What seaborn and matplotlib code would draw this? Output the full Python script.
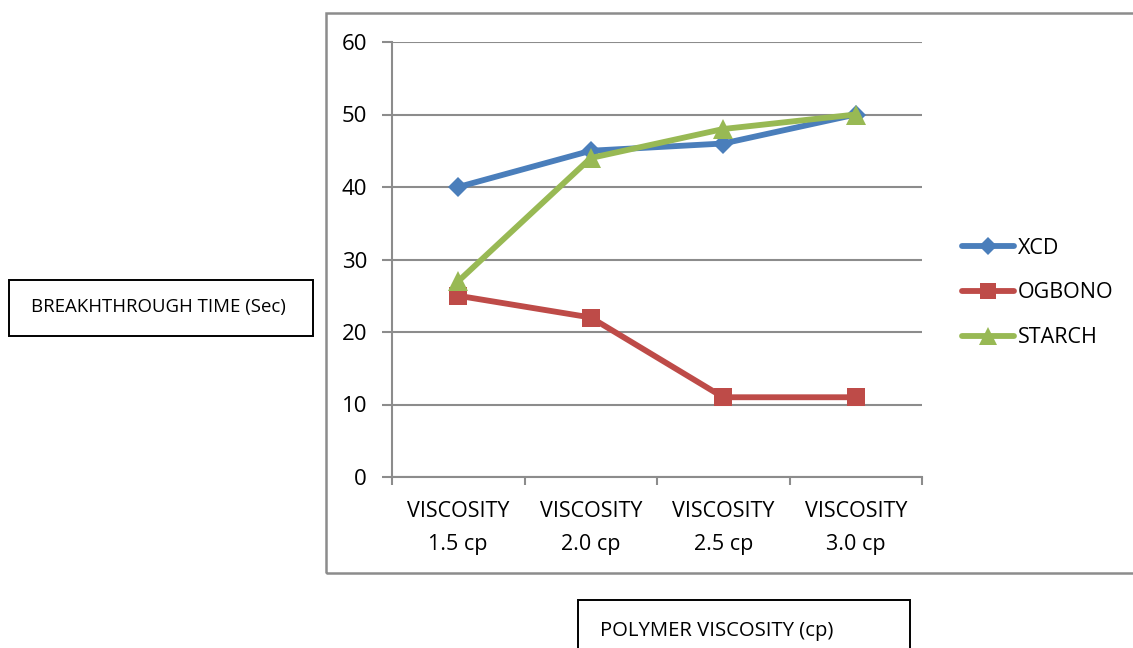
import pandas as pd
import seaborn as sns
import matplotlib.pyplot as plt
from matplotlib.patches import Rectangle
from matplotlib.lines import Line2D

categorias = ['VISCOSITY\n1.5 cp', 'VISCOSITY\n2.0 cp', 'VISCOSITY\n2.5 cp', 'VISCOSITY\n3.0 cp']
xcd = [40, 45, 46, 50]
ogbono = [25, 22, 11, 11]
starch = [27, 44, 48, 50]
series = ['XCD', 'OGBONO', 'STARCH']

colores = {'XCD': '#4A7EBB', 'OGBONO': '#BE4B48', 'STARCH': '#98B954'}
marcadores = {'XCD': 'D', 'OGBONO': 's', 'STARCH': '^'}
tam_marcador = {'D': 10.5, 's': 13.5, '^': 14}

filas = []
for nombre, valores in zip(series, [xcd, ogbono, starch]):
    for i, v in enumerate(valores):
        filas.append({'pos': i, 'tiempo': v, 'polimero': nombre})
df = pd.DataFrame(filas)

sns.set_style('white')
plt.rcParams['font.family'] = ['Open Sans', 'DejaVu Sans']
plt.rcParams['text.color'] = 'black'
plt.rcParams['xtick.color'] = 'black'
plt.rcParams['ytick.color'] = 'black'

fig = plt.figure(figsize=(11.33, 6.48), dpi=100)
ax = fig.add_axes([392/1133, 1 - 477/648, 530/1133, 435/648])

sns.lineplot(data=df, x='pos', y='tiempo', hue='polimero', style='polimero',
             palette=colores, markers=marcadores, dashes=False, linewidth=4.2,
             markeredgewidth=0, ax=ax, legend=False, sort=False)
for linea in ax.lines:
    m = linea.get_marker()
    if m in tam_marcador:
        linea.set_markersize(tam_marcador[m])

gris = '#8c8c8c'
ax.set_xlim(-0.5, 3.5)
ax.set_ylim(0, 60)
ax.set_yticks(range(0, 61, 10))
ax.yaxis.grid(True, color=gris, linewidth=1.5)
ax.set_axisbelow(True)
ax.set_xticks([-0.5, 0.5, 1.5, 2.5, 3.5])
ax.set_xticklabels([])
ax.set_xticks([0, 1, 2, 3], minor=True)
ax.set_xticklabels(categorias, minor=True, fontsize=15.5, linespacing=1.75)
ax.tick_params(axis='x', which='minor', length=0, pad=17.5)
ax.tick_params(axis='x', which='major', length=6, width=1.5, color=gris, direction='out', bottom=True)
ax.tick_params(axis='y', length=7, width=1.5, color=gris, direction='out', left=True, labelsize=16, pad=11)
for lado in ['top', 'right']:
    ax.spines[lado].set_visible(False)
for lado in ['left', 'bottom']:
    ax.spines[lado].set_color(gris)
    ax.spines[lado].set_linewidth(1.5)
ax.set_xlabel('')
ax.set_ylabel('')

manijas = [Line2D([], [], color=colores[s], marker=marcadores[s], linewidth=4.2,
                  markersize=tam_marcador[marcadores[s]] * 0.9, markeredgewidth=0) for s in series]
fig.legend(manijas, series, loc='center left', bbox_to_anchor=(962/1133, 1 - 293/648),
           frameon=False, fontsize=15.5, handlelength=2.4, handletextpad=0.2,
           labelspacing=1.1, borderpad=0, borderaxespad=0)

# recuadro del grafico
fig.patches.append(Rectangle((326/1133, 1 - 573/648), 820/1133, 560/648,
                             transform=fig.transFigure, fill=False,
                             edgecolor=gris, linewidth=1.8))

fig.patches.append(Rectangle((9/1133, 1 - 336/648), 304/1133, 56/648,
                             transform=fig.transFigure, fill=False,
                             edgecolor='black', linewidth=1.4))
fig.text(158/1133, 1 - 307/648, 'BREAKHTHROUGH TIME (Sec)', ha='center', va='center',
         fontsize=13.4)

fig.patches.append(Rectangle((578/1133, -0.05), 332/1133, (48/648) + 0.05,
                             transform=fig.transFigure, fill=False,
                             edgecolor='black', linewidth=1.4))
fig.text(600/1133, 1 - 631/648, 'POLYMER VISCOSITY (cp)', ha='left', va='center',
         fontsize=14.6)

plt.savefig('out.png', dpi=100)
